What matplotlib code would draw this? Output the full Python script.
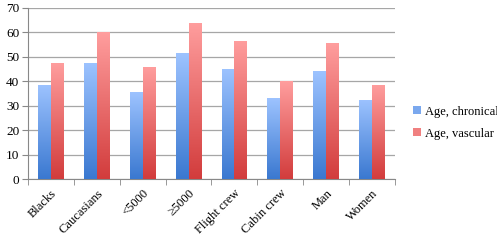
import numpy as np
import matplotlib.pyplot as plt
from matplotlib.colors import LinearSegmentedColormap

categories = ["Blacks", "Caucasians", "<5000", "\u22655000", "Flight crew", "Cabin crew", "Man", "Women"]
age_chronical = [38.5, 47.5, 35.5, 51.5, 45, 33, 44, 32.5]
age_vascular = [47.5, 60, 46, 64, 56.5, 40, 55.5, 38.5]

plt.rcParams['font.family'] = ['Liberation Serif', 'DejaVu Serif']

fig = plt.figure(figsize=(4.97, 2.40), dpi=100)
ax = fig.add_axes([0.056, 0.254, 0.739, 0.713])

x = np.arange(len(categories))
w = 0.28
b1 = ax.bar(x - w / 2, age_chronical, w, color='#7aa8ee', edgecolor='none',
            label="Age, chronical", zorder=2)
b2 = ax.bar(x + w / 2, age_vascular, w, color='#f08080', edgecolor='none',
            label="Age, vascular", zorder=2)

blue_cm = LinearSegmentedColormap.from_list('b', ['#3a78d0', '#9dc3ff'])
red_cm = LinearSegmentedColormap.from_list('r', ['#d23c3c', '#ff9e9e'])

grad = np.linspace(0, 1, 256).reshape(-1, 1)
for bars, cm in ((b1, blue_cm), (b2, red_cm)):
    for bar in bars:
        x0, y0 = bar.get_x(), bar.get_y()
        bw, bh = bar.get_width(), bar.get_height()
        im = ax.imshow(grad, cmap=cm, origin='lower', aspect='auto',
                       extent=[x0, x0 + bw, y0, y0 + bh], zorder=3)
        im.set_clip_path(bar)

ax.set_xlim(-0.5, len(categories) - 0.5)
ax.set_ylim(0, 70)
ax.set_yticks(range(0, 71, 10))
ax.yaxis.grid(True, color='#a6a6a6', linewidth=0.9, zorder=0)
ax.set_axisbelow(True)

ax.set_xticks(x)
ax.set_xticklabels(categories, rotation=45, ha='right', rotation_mode='anchor', fontsize=9)
ax.set_xticks(np.arange(-0.5, len(categories), 1), minor=True)
ax.tick_params(axis='x', which='major', length=0, pad=6)
ax.tick_params(axis='x', which='minor', length=4, color='#888888')
ax.tick_params(axis='y', labelsize=9.5, length=4, color='#888888', pad=2)

for s in ('top', 'right'):
    ax.spines[s].set_visible(False)
ax.spines['left'].set_color('#888888')
ax.spines['bottom'].set_color('#888888')

ax.legend(loc='center left', bbox_to_anchor=(1.05, 0.33), frameon=False,
          borderaxespad=0, borderpad=0, fontsize=9, handlelength=0.6,
          handleheight=0.6, handletextpad=0.3, labelspacing=0.8)

fig.savefig("out.png", dpi=100)
